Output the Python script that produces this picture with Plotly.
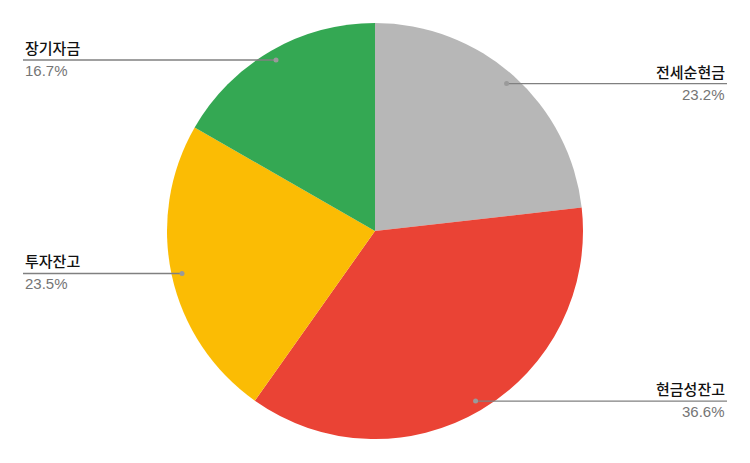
import math
import plotly.graph_objects as go

labels = ["전세순현금", "현금성잔고", "투자잔고", "장기자금"]
values = [23.2, 36.6, 23.5, 16.7]
colors = ["#b7b7b7", "#ea4335", "#fbbc04", "#34a853"]

W, H = 750, 463
top, bottom = 23, 439
R = (bottom - top) / 2
cx, cy = W / 2, (top + bottom) / 2

fig = go.Figure(go.Pie(
    labels=labels, values=values, sort=False, direction="clockwise", rotation=0,
    marker=dict(colors=colors, line=dict(width=0)),
    textinfo="none", hoverinfo="label+percent",
    domain=dict(x=[0, 1], y=[(H - bottom) / H, (H - top) / H]),
    showlegend=False,
))

shapes = []
annotations = []
total = sum(values)
cum = 0
for lab, v in zip(labels, values):
    mid = (cum + v / 2) / total * 2 * math.pi
    cum += v
    px = cx + 0.95 * R * math.sin(mid)
    py = cy - 0.95 * R * math.cos(mid)
    xp = px / W
    yp = 1 - py / H
    right = px > cx
    xe = (727 if right else 23) / W
    shapes.append(dict(type="line", xref="paper", yref="paper", x0=xp, y0=yp, x1=xe, y1=yp,
                       line=dict(color="#808080", width=1.3)))
    shapes.append(dict(type="circle", xref="paper", yref="paper",
                       x0=(px - 2.5) / W, x1=(px + 2.5) / W, y0=1 - (py + 2.5) / H, y1=1 - (py - 2.5) / H,
                       fillcolor="#9a9a9a", line=dict(width=0)))
    anchor = "right" if right else "left"
    annotations.append(dict(x=xe, y=yp, xref="paper", yref="paper", text=lab, showarrow=False,
                            xanchor=anchor, yanchor="bottom", yshift=0, xshift=0,
                            font=dict(size=15, color="#111111", family="Noto Sans CJK KR", weight=500)))
    annotations.append(dict(x=xe, y=yp, xref="paper", yref="paper", text=f"{v:.1f}%", showarrow=False,
                            xanchor=anchor, yanchor="top", yshift=0,
                            font=dict(size=15, color="#757575", family="Liberation Sans, Arial")))

fig.update_layout(width=W, height=H, margin=dict(l=0, r=0, t=0, b=0),
                  paper_bgcolor="white", plot_bgcolor="white",
                  shapes=shapes, annotations=annotations)
fig.write_html("out.html", config={"displayModeBar": False},
               post_script="document.body.style.margin='0';")
